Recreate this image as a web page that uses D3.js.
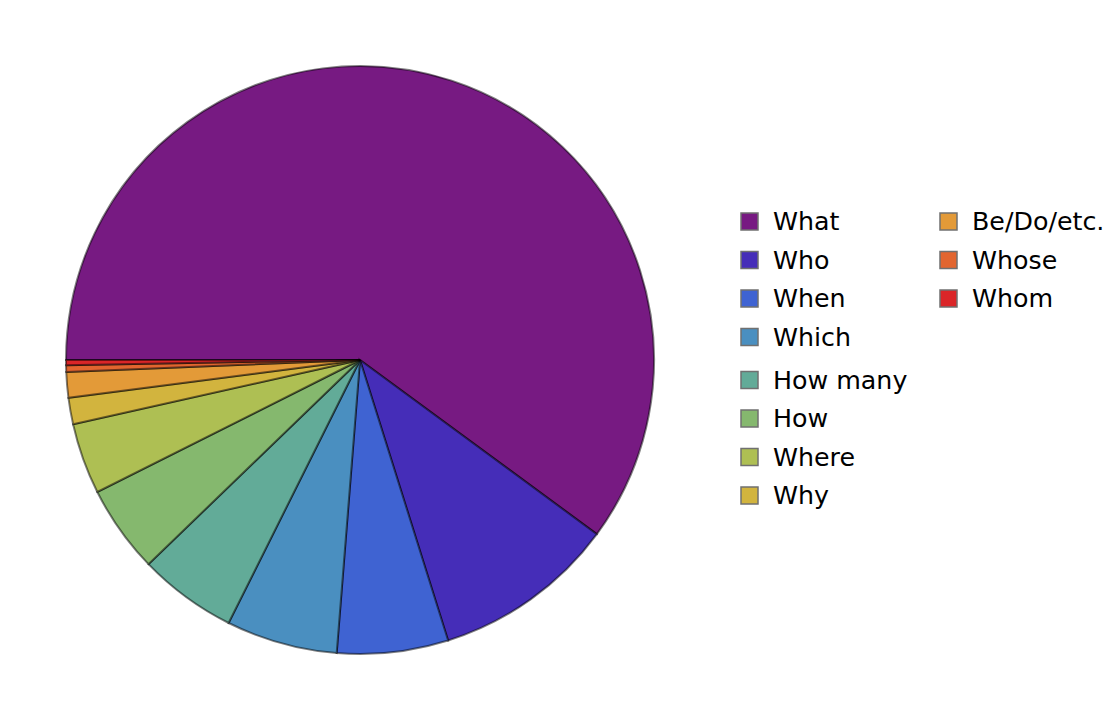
<!DOCTYPE html>
<html>
<head>
<meta charset="utf-8">
<script src="https://cdn.jsdelivr.net/npm/d3@7"></script>
<style>
  html, body { margin: 0; padding: 0; background: #fff; }
  svg { display: block; }
</style>
</head>
<body>
<svg id="chart" width="1116" height="720"></svg>
<script>
const categories = ["What", "Who", "When", "Which", "How many", "How", "Where", "Why", "Be/Do/etc.", "Whose", "Whom"];
const shares = [60.0, 10.05, 6.1, 6.1, 5.4, 4.8, 3.9, 1.45, 1.4, 0.37, 0.28];
const colors = ["#771a82", "#452db8", "#3f63d2", "#4a8fc0", "#62ab98", "#85b86e", "#aebf53", "#d2b43e", "#e39a38", "#e2652f", "#da2528"];

const svg = d3.select("#chart");
const cx = 360, cy = 360, r = 294;

const data = categories.map((c, i) => ({ name: c, value: shares[i], color: colors[i] }));

const pie = d3.pie()
  .value(d => d.value)
  .sort(null)
  .startAngle(-Math.PI / 2)
  .endAngle(3 * Math.PI / 2);

const arc = d3.arc().innerRadius(0).outerRadius(r);

const g = svg.append("g").attr("transform", `translate(${cx},${cy})`);
g.selectAll("path")
  .data(pie(data))
  .join("path")
  .attr("d", arc)
  .attr("fill", d => d.data.color)
  .attr("stroke", "#000")
  .attr("stroke-opacity", 0.5)
  .attr("stroke-width", 2)
  .attr("stroke-linejoin", "miter");

// legend
const col1 = categories.slice(0, 8);
const col2 = categories.slice(8);
const rowY1 = [221.5, 260, 298.5, 337, 380, 418.5, 457, 495.5];
const legend = svg.append("g").attr("font-family", "DejaVu Sans, sans-serif").attr("font-size", 25.3);

function drawCol(items, offset, x0, ys) {
  items.forEach((name, i) => {
    const idx = offset + i;
    const y = ys[i];
    legend.append("rect")
      .attr("x", x0).attr("y", y - 8.5)
      .attr("width", 17).attr("height", 17)
      .attr("fill", colors[idx])
      .attr("stroke", "#707070")
      .attr("stroke-width", 1.5);
    legend.append("text")
      .attr("x", x0 + 32).attr("y", y)
      .attr("dy", "0.35em")
      .attr("fill", "#000")
      .text(name);
  });
}
drawCol(col1, 0, 741, rowY1);
drawCol(col2, 8, 940, rowY1.slice(0, 3));
</script>
</body>
</html>
